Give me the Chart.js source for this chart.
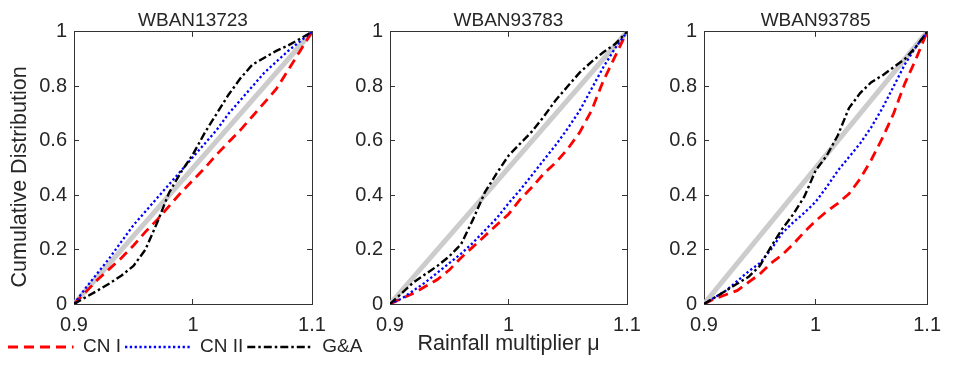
<!DOCTYPE html>
<html lang="en">
<head>
<meta charset="UTF-8">
<title>Cumulative distribution of the rainfall multiplier</title>
<script src="https://cdn.jsdelivr.net/npm/chart.js"></script>
<style>
  body { margin: 0; width: 955px; height: 368px; overflow: hidden; background: #fff; position: relative; }
  canvas { position: absolute; top: 0; }
</style>
</head>
<body>
<canvas id="c1" width="420" height="368" style="left:4px"></canvas>
<canvas id="c2" width="330" height="368" style="left:330px"></canvas>
<canvas id="c3" width="310" height="368" style="left:645px"></canvas>
<script>
// rainfall multiplier (x) for every curve
const multipliers = [0.90, 0.91, 0.92, 0.93, 0.94, 0.95, 0.96, 0.97, 0.98, 0.99, 1.00,
                     1.01, 1.02, 1.03, 1.04, 1.05, 1.06, 1.07, 1.08, 1.09, 1.10];
const xTicks = [0.9, 1, 1.1];
const yTicks = [0, 0.2, 0.4, 0.6, 0.8, 1];
const stations = ['WBAN13723', 'WBAN93783', 'WBAN93785'];
const seriesNames = ['CN I', 'CN II', 'G&A'];

// uniform reference line
const uniformX = [0.9, 1.1];
const uniformY = [0, 1];

// WBAN13723
const cn1_13723 = [0, 0.045, 0.09, 0.13, 0.17, 0.215, 0.265, 0.31, 0.36, 0.41, 0.455,
                   0.50, 0.55, 0.595, 0.64, 0.69, 0.74, 0.79, 0.86, 0.93, 1];
const cn2_13723 = [0, 0.06, 0.115, 0.17, 0.23, 0.29, 0.34, 0.39, 0.44, 0.49, 0.54,
                   0.59, 0.64, 0.70, 0.75, 0.80, 0.85, 0.89, 0.93, 0.965, 1];
const ga_13723  = [0, 0.025, 0.05, 0.076, 0.105, 0.14, 0.20, 0.30, 0.41, 0.485, 0.55,
                   0.63, 0.70, 0.77, 0.83, 0.88, 0.905, 0.93, 0.95, 0.975, 1];

// WBAN93783
const cn1_93783 = [0, 0.02, 0.04, 0.065, 0.09, 0.125, 0.17, 0.21, 0.25, 0.29, 0.33,
                   0.385, 0.43, 0.48, 0.52, 0.57, 0.63, 0.71, 0.82, 0.91, 1];
const cn2_93783 = [0, 0.02, 0.05, 0.08, 0.115, 0.15, 0.185, 0.225, 0.27, 0.315, 0.37,
                   0.42, 0.475, 0.53, 0.585, 0.645, 0.71, 0.79, 0.87, 0.94, 1];
const ga_93783  = [0, 0.04, 0.08, 0.11, 0.14, 0.175, 0.22, 0.31, 0.41, 0.48, 0.545,
                   0.59, 0.635, 0.69, 0.75, 0.80, 0.85, 0.89, 0.925, 0.955, 1];

// WBAN93785
const cn1_93785 = [0, 0.02, 0.035, 0.05, 0.08, 0.11, 0.15, 0.18, 0.22, 0.265, 0.305,
                   0.34, 0.37, 0.405, 0.46, 0.53, 0.61, 0.70, 0.81, 0.90, 1];
const cn2_93785 = [0, 0.025, 0.05, 0.085, 0.12, 0.15, 0.20, 0.26, 0.30, 0.335, 0.375,
                   0.43, 0.49, 0.54, 0.59, 0.65, 0.72, 0.80, 0.88, 0.945, 1];
const ga_93785  = [0, 0.025, 0.05, 0.075, 0.10, 0.14, 0.21, 0.275, 0.33, 0.395, 0.49,
                   0.545, 0.62, 0.72, 0.775, 0.815, 0.84, 0.87, 0.90, 0.945, 1];

Chart.defaults.font.family = '"Liberation Sans", Arial, sans-serif';
Chart.defaults.color = '#262626';
const axisColor = '#333333';

function pts(xs, ys) {
  return xs.map((x, i) => ({x: x, y: ys[i]}));
}

function axis(position, ticks, min, max, size, labels, title, titlePad) {
  const horiz = position === 'top' || position === 'bottom';
  return {
    type: 'linear',
    position: position,
    min: min,
    max: max,
    afterBuildTicks: s => { s.ticks = ticks.map(v => ({value: v})); },
    afterFit: s => { if (horiz) s.height = size; else s.width = size; },
    ticks: {
      display: labels,
      font: {size: 20},
      padding: horiz ? 14 : 12,
      maxRotation: 0,
      autoSkip: false,
      callback: v => String(v)
    },
    grid: {drawOnChartArea: false, tickLength: -5, color: axisColor, lineWidth: 1},
    border: {display: true, color: axisColor, width: 1},
    title: {
      display: !!title,
      text: title || '',
      font: {size: 21.5},
      padding: titlePad || 0
    }
  };
}

// legend samples keep the dash pattern of each curve
function legendItems(chart) {
  return chart.data.datasets.slice(0, 3).map((d, i) => ({
    text: d.label,
    strokeStyle: d.borderColor,
    fillStyle: 'rgba(0,0,0,0)',
    fontColor: '#262626',
    lineWidth: d.borderWidth,
    lineDash: d.borderDash,
    lineCap: 'butt',
    pointStyle: 'line',
    hidden: false,
    datasetIndex: i
  }));
}

function makeChart(id, station, cn1, cn2, ga, o) {
  new Chart(document.getElementById(id), {
    type: 'line',
    data: {
      datasets: [
        {label: seriesNames[0], data: pts(multipliers, cn1), borderColor: '#ff0000',
         backgroundColor: 'rgba(0,0,0,0)', borderWidth: 2.8, borderDash: [10, 6], order: 2},
        {label: seriesNames[1], data: pts(multipliers, cn2), borderColor: '#0000ff',
         backgroundColor: 'rgba(0,0,0,0)', borderWidth: 2.3, borderDash: [2.3, 2.5], order: 1},
        {label: seriesNames[2], data: pts(multipliers, ga), borderColor: '#000000',
         backgroundColor: 'rgba(0,0,0,0)', borderWidth: 2.4, borderDash: [8, 3, 2.5, 3], order: 0},
        {label: 'uniform', data: pts(uniformX, uniformY), borderColor: '#cccccc',
         backgroundColor: 'rgba(0,0,0,0)', borderWidth: 5, order: 3}
      ]
    },
    options: {
      responsive: false,
      animation: false,
      devicePixelRatio: 1,
      events: [],
      elements: {point: {radius: 0}, line: {tension: 0, fill: false}},
      layout: {padding: {left: 0, right: 0, top: 0, bottom: o.padBottom}},
      scales: {
        x: axis('bottom', xTicks, 0.9, 1.1, o.bottomH, true, o.xTitle, {top: 0, bottom: 10.6}),
        x2: axis('top', xTicks, 0.9, 1.1, 0, false),
        y: axis('left', yTicks, 0, 1, o.leftW, true, o.yTitle, {top: o.yTitlePad || 0, bottom: 0}),
        y2: axis('right', yTicks, 0, 1, o.rightW, false)
      },
      plugins: {
        tooltip: {enabled: false},
        title: {
          display: true,
          text: station,
          fullSize: false,
          color: '#262626',
          font: {size: 19, weight: 'normal', lineHeight: 1.15},
          padding: {top: 10, bottom: 0}
        },
        legend: {
          display: o.legend,
          position: 'bottom',
          align: 'start',
          labels: {
            usePointStyle: true,
            pointStyleWidth: 65.5,
            padding: 4,
            font: {size: 19},
            color: '#262626',
            generateLabels: legendItems
          }
        }
      }
    }
  });
}

makeChart('c1', stations[0], cn1_13723, cn2_13723, ga_13723,
  {leftW: 70, rightW: 112, bottomH: 29.5, padBottom: 1.5, legend: true,
   yTitle: 'Cumulative Distribution   ', yTitlePad: 3.1});
makeChart('c2', stations[1], cn1_93783, cn2_93783, ga_93783,
  {leftW: 60, rightW: 33, bottomH: 64, padBottom: 0, legend: false,
   xTitle: 'Rainfall multiplier μ'});
makeChart('c3', stations[2], cn1_93785, cn2_93785, ga_93785,
  {leftW: 59, rightW: 13, bottomH: 64, padBottom: 0, legend: false});
</script>
</body>
</html>
